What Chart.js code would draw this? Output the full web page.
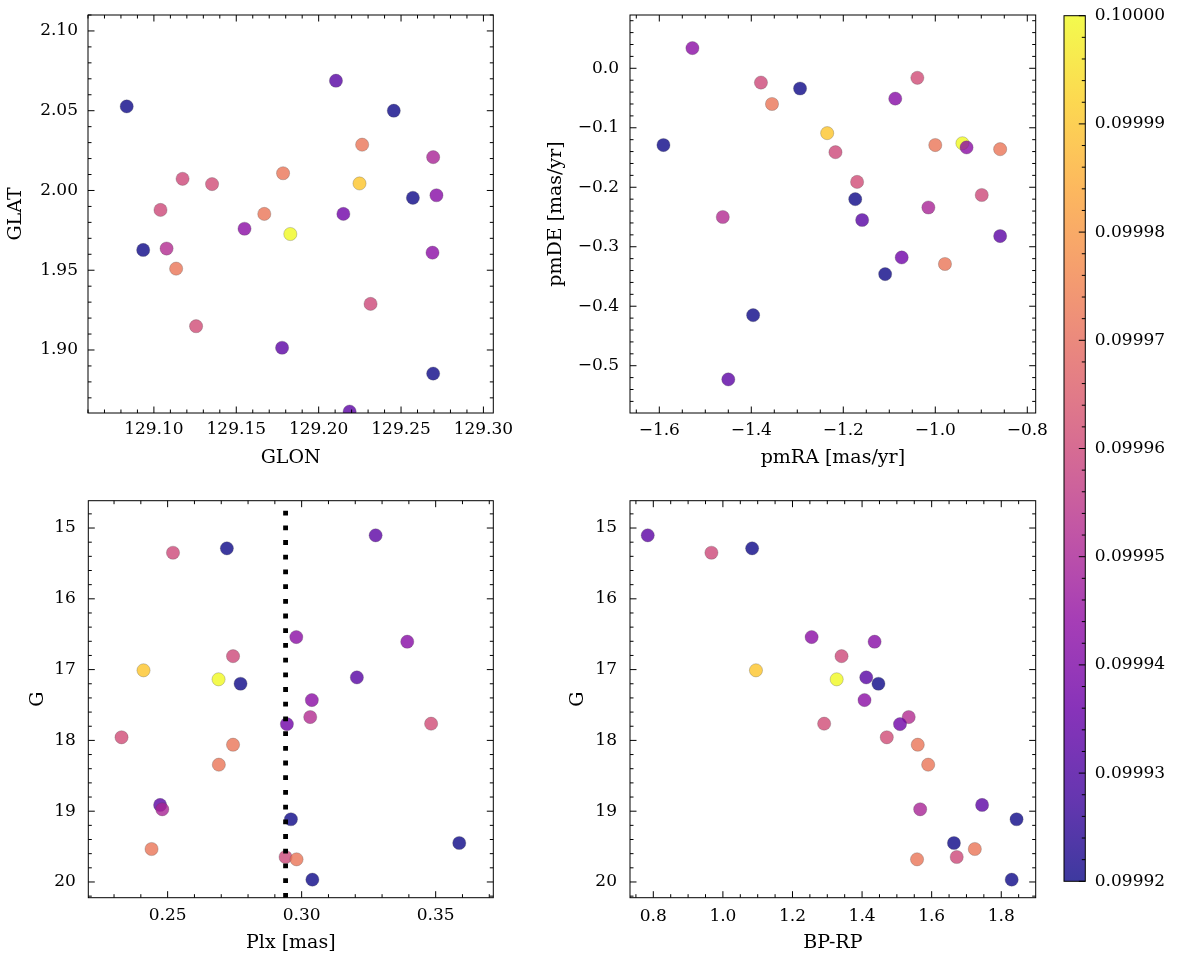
<!DOCTYPE html>
<html>
<head>
<meta charset="utf-8">
<script src="https://cdn.jsdelivr.net/npm/chart.js@4.4.1/dist/chart.umd.min.js"></script>
<style>
  body { margin: 0; background: #fff; }
  #wrap { position: relative; width: 1177px; height: 965px; overflow: hidden; background: #fff; }
  canvas { position: absolute; }
</style>
</head>
<body>
<div id="wrap">
  <canvas id="tl" width="540" height="480" style="left:0px;top:0px"></canvas>
  <canvas id="tr" width="637" height="480" style="left:540px;top:0px"></canvas>
  <canvas id="bl" width="540" height="485" style="left:0px;top:480px"></canvas>
  <canvas id="br" width="637" height="485" style="left:540px;top:480px"></canvas>
  <canvas id="cb" width="137" height="965" style="left:1040px;top:0px"></canvas>
</div>
<script>
// one entry per star, same order in every array
const glon = [129.1778, 129.0835, 129.1040, 129.1550, 129.2715, 129.1174, 129.2248, 129.1828, 129.0935, 129.2105, 129.2691, 129.1077, 129.2150, 129.1256, 129.1353, 129.1135, 129.1670, 129.2188, 129.2695, 129.2456, 129.2572, 129.1784, 129.2315, 129.2264, 129.2695];
const glat = [1.9014, 2.0527, 1.9878, 1.9760, 1.9970, 2.0073, 2.0044, 1.9727, 1.9627, 2.0688, 1.9610, 1.9636, 1.9853, 1.9149, 2.0040, 1.9510, 1.9853, 1.8614, 2.0209, 2.0500, 1.9954, 2.0108, 1.9289, 2.0287, 1.8852];
const pmra = [-1.450, -1.591, -1.379, -1.528, -1.087, -1.217, -1.235, -0.941, -1.294, -1.159, -0.932, -1.462, -1.073, -1.170, -1.039, -1.355, -1.000, -0.859, -1.015, -1.174, -1.396, -0.979, -0.899, -0.859, -1.109];
const pmde = [-0.523, -0.129, -0.024, 0.034, -0.051, -0.141, -0.109, -0.126, -0.034, -0.255, -0.133, -0.250, -0.318, -0.191, -0.016, -0.060, -0.129, -0.282, -0.234, -0.220, -0.415, -0.329, -0.213, -0.136, -0.346];
const plx = [0.3276, 0.2721, 0.2520, 0.2980, 0.3394, 0.2744, 0.2410, 0.2690, 0.2772, 0.3206, 0.3038, 0.3032, 0.2945, 0.3483, 0.2328, 0.2744, 0.2691, 0.2472, 0.2480, 0.2960, 0.3588, 0.2440, 0.2940, 0.2981, 0.3040];
const gmag = [15.103, 15.287, 15.349, 16.540, 16.606, 16.810, 17.010, 17.137, 17.200, 17.110, 17.430, 17.670, 17.770, 17.764, 17.956, 18.061, 18.343, 18.912, 18.973, 19.114, 19.449, 19.534, 19.647, 19.680, 19.967];
const bprp = [0.784, 1.084, 0.967, 1.255, 1.436, 1.341, 1.095, 1.327, 1.447, 1.412, 1.407, 1.534, 1.509, 1.291, 1.471, 1.560, 1.590, 1.745, 1.567, 1.844, 1.664, 1.724, 1.672, 1.558, 1.830];
const cval = [0.099933, 0.09992, 0.09996, 0.099943, 0.099942, 0.09996, 0.09999, 0.10000, 0.09992, 0.099932, 0.099943, 0.099952, 0.099937, 0.099961, 0.099961, 0.099972, 0.099972, 0.099933, 0.09995, 0.09992, 0.09992, 0.099972, 0.09996, 0.099972, 0.09992];

// parallax cut
const plxCut = 0.294;

// tick labels
const glonTicks = [129.10, 129.15, 129.20, 129.25, 129.30];
const glatTicks = [1.90, 1.95, 2.00, 2.05, 2.10];
const pmraTicks = [-1.6, -1.4, -1.2, -1.0, -0.8];
const pmdeTicks = [-0.5, -0.4, -0.3, -0.2, -0.1, 0.0];
const plxTicks = [0.25, 0.30, 0.35];
const gTicks = [15, 16, 17, 18, 19, 20];
const bprpTicks = [0.8, 1.0, 1.2, 1.4, 1.6, 1.8];
const cbTicks = [0.09992, 0.09993, 0.09994, 0.09995, 0.09996, 0.09997, 0.09998, 0.09999, 0.10000];
const cMin = 0.09992, cMax = 0.10000;

Chart.defaults.color = '#000';
Chart.defaults.font.family = "'DejaVu Serif', serif";

// plasma colormap
const plasmaStops = ['#0d0887', '#41049d', '#6a00a8', '#8f0da4', '#b12a90', '#cc4778', '#e16462', '#f2844b', '#fca636', '#fcce25', '#f0f921'];
function hexRgb(h) {
  return [parseInt(h.slice(1, 3), 16), parseInt(h.slice(3, 5), 16), parseInt(h.slice(5, 7), 16)];
}
function plasma(t, a) {
  t = Math.max(0, Math.min(1, t));
  const i = Math.min(9, Math.floor(t * 10));
  const f = t * 10 - i;
  const c0 = hexRgb(plasmaStops[i]), c1 = hexRgb(plasmaStops[i + 1]);
  const c = c0.map((v, k) => Math.round(v + (c1[k] - v) * f));
  return 'rgba(' + c[0] + ',' + c[1] + ',' + c[2] + ',' + a + ')';
}
const pointColors = cval.map(v => plasma((v - cMin) / (cMax - cMin), 0.8));

function fmt(v, d) {
  return (v < -1e-12 ? '\u2212' : '') + Math.abs(v).toFixed(d);
}

// frame + inward ticks, like matplotlib
const MAJOR = 6.5, MINOR = 3.5;
function tickSpots(scale, step) {
  const majors = scale.ticks.map(t => t.value);
  const out = majors.map(v => [scale.getPixelForValue(v), MAJOR]);
  if (step) {
    const lo = scale.min, hi = scale.max;
    for (let k = Math.ceil(lo / step - 1e-6); k <= Math.floor(hi / step + 1e-6); k++) {
      const v = k * step;
      if (majors.some(m => Math.abs(m - v) < step * 0.01)) continue;
      out.push([scale.getPixelForValue(v), MINOR]);
    }
  }
  return out;
}
const axesFrame = {
  id: 'axesFrame',
  afterDraw(chart, args, o) {
    const {ctx, chartArea: a} = chart;
    ctx.save();
    ctx.strokeStyle = '#000';
    ctx.lineWidth = 1;
    ctx.strokeRect(a.left, a.top, a.right - a.left, a.bottom - a.top);
    ctx.beginPath();
    if (o.xSides) {
      tickSpots(chart.scales.x, o.xMinor).forEach(([p, len]) => {
        if (o.xSides.includes('bottom')) { ctx.moveTo(p, a.bottom); ctx.lineTo(p, a.bottom - len); }
        if (o.xSides.includes('top')) { ctx.moveTo(p, a.top); ctx.lineTo(p, a.top + len); }
      });
    }
    if (o.ySides) {
      tickSpots(chart.scales.y, o.yMinor).forEach(([p, len]) => {
        if (o.ySides.includes('left')) { ctx.moveTo(a.left, p); ctx.lineTo(a.left + len, p); }
        if (o.ySides.includes('right')) { ctx.moveTo(a.right, p); ctx.lineTo(a.right - len, p); }
      });
    }
    ctx.stroke();
    ctx.restore();
  }
};
Chart.register(axesFrame);

function makeScatter(id, p) {
  const datasets = [{
    type: 'scatter',
    data: p.xs.map((x, i) => ({x: x, y: p.ys[i]})),
    backgroundColor: pointColors,
    borderColor: 'rgba(70,70,70,0.45)',
    borderWidth: 0.6,
    pointRadius: 6.6,
    order: 1,
    clip: 0
  }];
  if (p.vline != null) {
    datasets.push({
      type: 'line',
      data: [{x: p.vline, y: p.yMax}, {x: p.vline, y: p.yMin}],
      borderColor: '#000',
      borderWidth: 4.8,
      borderDash: [4.8, 9.9],
      borderCapStyle: 'butt',
      pointRadius: 0,
      fill: false,
      order: 0,
      clip: 0
    });
  }
  return new Chart(document.getElementById(id), {
    type: 'scatter',
    data: {datasets: datasets},
    options: {
      responsive: false,
      animation: false,
      events: [],
      layout: {padding: {left: 0, top: p.top, right: p.right, bottom: 0}},
      plugins: {
        legend: {display: false},
        tooltip: {enabled: false},
        axesFrame: {xMinor: p.xMinor, yMinor: p.yMinor, xSides: ['bottom', 'top'], ySides: ['left', 'right']}
      },
      scales: {
        x: {
          type: 'linear', min: p.xMin, max: p.xMax,
          afterBuildTicks: s => { s.ticks = p.xTicks.map(v => ({value: v})); },
          afterFit: s => { s.height = p.xHeight; s.paddingLeft = 0; s.paddingRight = 0; },
          grid: {display: false, drawTicks: false},
          border: {display: false},
          ticks: {autoSkip: false, maxRotation: 0, minRotation: 0, padding: p.xPad, font: {size: 17},
                  callback: v => fmt(v, p.xDec)},
          title: {display: true, text: p.xTitle, font: {size: 19}, padding: {top: 0, bottom: 10.5}}
        },
        y: {
          type: 'linear', min: p.yMin, max: p.yMax, reverse: !!p.reverse,
          afterBuildTicks: s => { s.ticks = p.yTicks.map(v => ({value: v})); },
          afterFit: s => { s.width = p.yWidth; s.paddingTop = 0; s.paddingBottom = 0; },
          grid: {display: false, drawTicks: false},
          border: {display: false},
          ticks: {autoSkip: false, padding: p.yPad, font: {size: 17},
                  callback: v => fmt(v, p.yDec)},
          title: {display: true, text: p.yTitle, font: {size: 19}, padding: {top: p.yTitlePad, bottom: 0}}
        }
      }
    }
  });
}

makeScatter('tl', {
  xs: glon, ys: glat, xMin: 129.06, xMax: 129.306, yMin: 1.8605, yMax: 2.11,
  xTicks: glonTicks, yTicks: glatTicks, xMinor: 0.01, yMinor: 0.01, xDec: 2, yDec: 2,
  xTitle: 'GLON', yTitle: 'GLAT', top: 15, right: 46.7, yWidth: 88, xHeight: 67,
  xPad: 6, yPad: 10, yTitlePad: 4.4
});
makeScatter('tr', {
  xs: pmra, ys: pmde, xMin: -1.6637, xMax: -0.7817, yMin: -0.5795, yMax: 0.0896,
  xTicks: pmraTicks, yTicks: pmdeTicks, xMinor: 0.05, yMinor: 0.02, xDec: 1, yDec: 1,
  xTitle: 'pmRA [mas/yr]', yTitle: 'pmDE [mas/yr]', top: 15, right: 141.3, yWidth: 90, xHeight: 67,
  xPad: 7, yPad: 11, yTitlePad: 4.4
});
makeScatter('bl', {
  xs: plx, ys: gmag, xMin: 0.2204, xMax: 0.3715, yMin: 14.614, yMax: 20.222, reverse: true,
  xTicks: plxTicks, yTicks: gTicks, xMinor: 0.01, yMinor: 0.2, xDec: 2, yDec: 0,
  xTitle: 'Plx [mas]', yTitle: 'G', top: 20.7, right: 46.7, yWidth: 88.3, xHeight: 67.3,
  xPad: 8, yPad: 12.5, yTitlePad: 27, vline: plxCut
});
makeScatter('br', {
  xs: bprp, ys: gmag, xMin: 0.733, xMax: 1.899, yMin: 14.614, yMax: 20.222, reverse: true,
  xTicks: bprpTicks, yTicks: gTicks, xMinor: 0.05, yMinor: 0.2, xDec: 1, yDec: 0,
  xTitle: 'BP-RP', yTitle: 'G', top: 20.7, right: 141.3, yWidth: 90, xHeight: 67.3,
  xPad: 8.5, yPad: 13, yTitlePad: 27
});

// colorbar
new Chart(document.getElementById('cb'), {
  type: 'bar',
  data: {
    labels: [''],
    datasets: [{
      data: [[cMin, cMax]],
      backgroundColor: c => {
        const a = c.chart.chartArea;
        if (!a) return 'rgba(0,0,0,0)';
        const g = c.chart.ctx.createLinearGradient(0, a.bottom, 0, a.top);
        for (let i = 0; i <= 20; i++) g.addColorStop(i / 20, plasma(i / 20, 0.8));
        return g;
      },
      borderWidth: 0,
      barPercentage: 1,
      categoryPercentage: 1
    }]
  },
  options: {
    responsive: false,
    animation: false,
    events: [],
    layout: {padding: {left: 24, top: 15.7, right: 0, bottom: 83.7}},
    plugins: {
      legend: {display: false},
      tooltip: {enabled: false},
      axesFrame: {yMinor: 0.000002, ySides: ['right']}
    },
    scales: {
      x: {display: false},
      y: {
        position: 'right', min: cMin, max: cMax,
        afterBuildTicks: s => { s.ticks = cbTicks.map(v => ({value: v})); },
        afterFit: s => { s.width = 91.7; s.paddingTop = 0; s.paddingBottom = 0; },
        grid: {display: false, drawTicks: false},
        border: {display: false},
        ticks: {autoSkip: false, padding: 9.5, font: {size: 17}, callback: v => v.toFixed(5)}
      }
    }
  }
});
</script>
</body>
</html>
